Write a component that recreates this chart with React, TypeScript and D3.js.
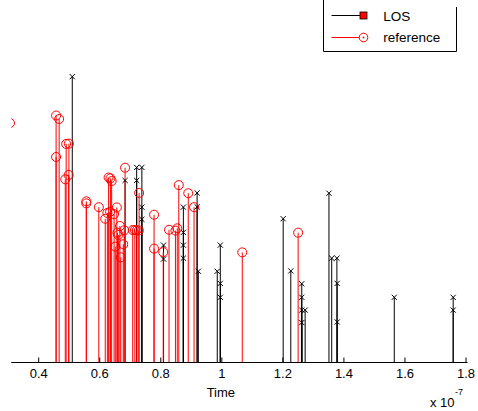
import React from "react";
import * as d3 from "d3";

// LOS series (time in units of 1e-7 s, amplitude arbitrary)
const losTime = [0.510, 0.683, 0.721, 0.738, 0.721, 0.738, 0.738, 0.809, 0.809, 0.874, 0.874, 0.874, 0.874, 0.919, 0.919, 0.923, 0.985, 0.995, 0.995, 0.995, 1.201, 1.226, 1.262, 1.262, 1.262, 1.273, 1.262, 1.351, 1.360, 1.377, 1.378, 1.378, 1.565, 1.758, 1.758];
const losValue = [0.984, 0.626, 0.671, 0.671, 0.626, 0.534, 0.492, 0.403, 0.355, 0.534, 0.447, 0.403, 0.358, 0.583, 0.535, 0.313, 0.313, 0.403, 0.271, 0.223, 0.494, 0.314, 0.270, 0.223, 0.179, 0.179, 0.136, 0.582, 0.358, 0.358, 0.271, 0.138, 0.223, 0.223, 0.179];

// reference series
const refTime = [0.306, 0.457, 0.467, 0.457, 0.490, 0.499, 0.487, 0.498, 0.556, 0.556, 0.597, 0.618, 0.625, 0.634, 0.629, 0.635, 0.639, 0.647, 0.656, 0.666, 0.658, 0.661, 0.651, 0.677, 0.669, 0.683, 0.680, 0.708, 0.715, 0.721, 0.728, 0.729, 0.778, 0.778, 0.808, 0.827, 0.848, 0.854, 0.859, 0.890, 0.909, 1.067, 1.250];
const refValue = [0.824, 0.850, 0.838, 0.707, 0.752, 0.753, 0.630, 0.645, 0.554, 0.547, 0.534, 0.494, 0.514, 0.518, 0.636, 0.633, 0.624, 0.510, 0.533, 0.469, 0.446, 0.438, 0.398, 0.406, 0.361, 0.670, 0.454, 0.455, 0.455, 0.454, 0.454, 0.583, 0.508, 0.391, 0.379, 0.456, 0.453, 0.461, 0.610, 0.582, 0.534, 0.378, 0.446];

const xTicks = [0.4, 0.6, 0.8, 1.0, 1.2, 1.4, 1.6, 1.8];
const xTickLabels = ["0.4", "0.6", "0.8", "1", "1.2", "1.4", "1.6", "1.8"];
const legendLabels = ["LOS", "reference"];

const W = 478;
const H = 411;
const FONT = "'Liberation Sans', Arial, Helvetica, sans-serif";

export default function App() {
  const x = d3.scaleLinear().domain([0.4, 1.8]).range([38.7, 466]);
  const y = d3.scaleLinear().domain([0, 1]).range([362, 72]);
  const axisLeft = x(0.31);
  const axisRight = x(1.805);
  const base = y(0);
  const xs = 2.6;

  const los = losTime.map((t, i) => ({ t, v: losValue[i] }));
  const ref = refTime.map((t, i) => ({ t, v: refValue[i] }));

  return (
    <svg
      width={W}
      height={H}
      style={{ position: "absolute", left: 0, top: 0, background: "#fff" }}
      fontFamily={FONT}
    >
      <defs>
        <clipPath id="plotClip">
          <rect x={axisLeft} y={0} width={W - axisLeft} height={base + 1} />
        </clipPath>
      </defs>
      <rect width={W} height={H} fill="#fff" />
      <g clipPath="url(#plotClip)">
        {los.map((d, i) => (
          <line key={"ls" + i} x1={x(d.t)} x2={x(d.t)} y1={base} y2={y(d.v)} stroke="#000" strokeWidth={1} />
        ))}
        {ref.map((d, i) => (
          <line key={"rs" + i} x1={x(d.t)} x2={x(d.t)} y1={base} y2={y(d.v)} stroke="#ff0000" strokeWidth={1} />
        ))}
        {los.map((d, i) => {
          const cx = x(d.t);
          const cy = y(d.v);
          return (
            <path
              key={"lm" + i}
              d={`M${cx - xs},${cy - xs}L${cx + xs},${cy + xs}M${cx - xs},${cy + xs}L${cx + xs},${cy - xs}`}
              stroke="#000"
              strokeWidth={1}
              fill="none"
            />
          );
        })}
        {ref.map((d, i) => (
          <circle key={"rm" + i} cx={x(d.t)} cy={y(d.v)} r={4.5} fill="none" stroke="#ff0000" strokeWidth={1} />
        ))}
      </g>

      {/* x axis */}
      <line x1={axisLeft} x2={axisRight} y1={base + 0.5} y2={base + 0.5} stroke="#000" strokeWidth={1} />
      {xTicks.map((t, i) => (
        <g key={"t" + i}>
          <line x1={x(t)} x2={x(t)} y1={base} y2={base - 4.5} stroke="#000" strokeWidth={1} />
          <text x={x(t)} y={378.3} fontSize={13} textAnchor="middle" fill="#000">
            {xTickLabels[i]}
          </text>
        </g>
      ))}
      <text x={x(1.0) - 1} y={397.3} fontSize={13} textAnchor="middle" fill="#000">Time</text>
      <text x={430} y={406.5} fontSize={13} fill="#000">x 10</text>
      <text x={455} y={395} fontSize={9} fill="#000">-7</text>

      {/* legend */}
      <g>
        <rect x={323.5} y={-10} width={133} height={61} fill="#fff" stroke="none" />
        <line x1={323.5} x2={323.5} y1={0} y2={51.5} stroke="#000" />
        <line x1={323.5} x2={456.5} y1={51.5} y2={51.5} stroke="#000" />
        <line x1={456.5} x2={456.5} y1={7} y2={51.5} stroke="#000" />
        <line x1={331.5} x2={363.5} y1={15.5} y2={15.5} stroke="#000" />
        <rect x={360} y={12} width={7} height={7} fill="#ff0000" stroke="#000" strokeWidth={0.8} />
        <text x={383.3} y={20.5} fontSize={13.5} fill="#000">{legendLabels[0]}</text>
        <line x1={331.5} x2={363.5} y1={37.5} y2={37.5} stroke="#ff0000" />
        <circle cx={363.5} cy={37.5} r={4.3} fill="#fff" stroke="#ff0000" />
        <circle cx={363.5} cy={37.5} r={0.9} fill="#ff0000" />
        <text x={383.3} y={41.5} fontSize={13.5} fill="#000">{legendLabels[1]}</text>
      </g>
    </svg>
  );
}
